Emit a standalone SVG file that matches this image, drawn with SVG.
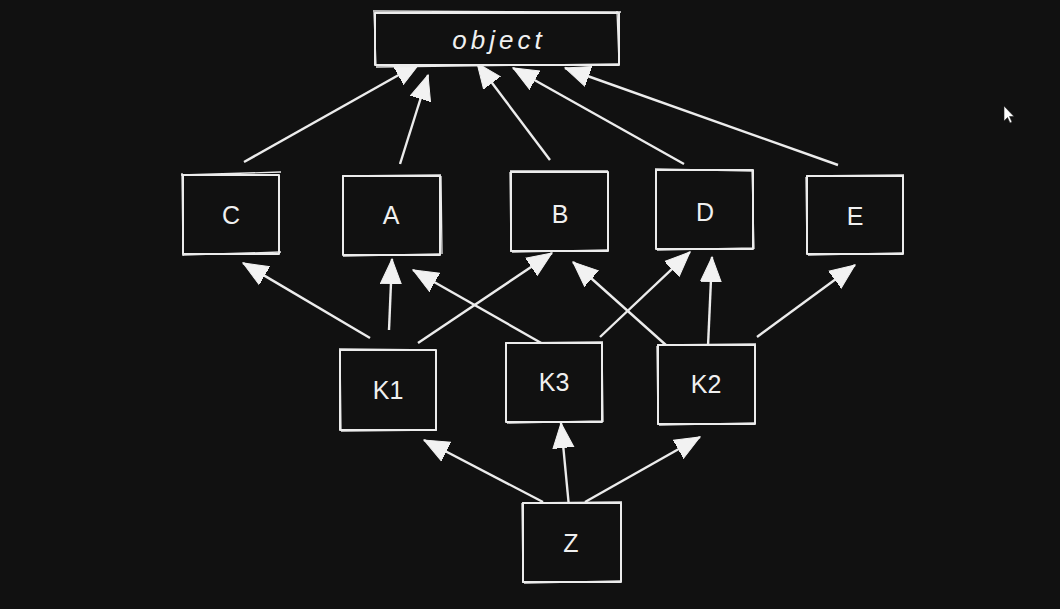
<svg xmlns="http://www.w3.org/2000/svg" width="1060" height="609" viewBox="0 0 1060 609">
<defs>
<style>
.bx{fill:#111111;stroke:#ececec;stroke-width:2;stroke-linejoin:round}
.bx2{fill:none;stroke:#ececec;stroke-width:1.3}
.lb{font-family:"Liberation Sans",Arial,sans-serif;font-size:25px;fill:#f0f0f0;text-anchor:middle;dominant-baseline:central}
.ob{font-family:"Liberation Sans",Arial,sans-serif;font-style:italic;font-size:26px;letter-spacing:4px;fill:#f0f0f0;text-anchor:middle;dominant-baseline:central}
.cn line{stroke:#ececec;stroke-width:2.4;marker-end:url(#ah)}
</style>
<marker id="ah" markerUnits="userSpaceOnUse" markerWidth="28" markerHeight="24" refX="25" refY="12" orient="auto" viewBox="0 0 28 24">
<path d="M0,1.5 L25,12 L0,22.5 Z" fill="#f2f2f2" stroke="#f2f2f2" stroke-width="1"/>
</marker>
</defs>
<rect width="1060" height="609" fill="#111111"/>
<g class="cn" id="connectors">
<line x1="244" y1="162" x2="420" y2="63"/>
<line x1="400" y1="164" x2="428" y2="75"/>
<line x1="550" y1="160" x2="477" y2="63"/>
<line x1="684" y1="164" x2="513" y2="68"/>
<line x1="838" y1="165" x2="565" y2="68"/>
<line x1="370" y1="338" x2="243" y2="263"/>
<line x1="389" y1="330" x2="392" y2="259"/>
<line x1="418" y1="343" x2="552" y2="253"/>
<line x1="550" y1="348" x2="413" y2="270"/>
<line x1="600" y1="337" x2="690" y2="252"/>
<line x1="667" y1="346" x2="573" y2="262"/>
<line x1="708" y1="346" x2="712" y2="257"/>
<line x1="757" y1="337" x2="855" y2="265"/>
<line x1="543" y1="502" x2="424" y2="440"/>
<line x1="569" y1="507" x2="561" y2="423"/>
<line x1="585" y1="502" x2="700" y2="437"/>
</g>
<g id="object">
<rect class="bx" x="375" y="13" width="244" height="52"/>
<path class="bx2" d="M373,11 L621,12 M376,67 L618,64 M374,12 L376,66 M617,11 L619,63"/>
<text class="ob" x="499" y="40">object</text>
</g>
<g id="C">
<rect class="bx" x="183" y="175" width="96" height="79"/>
<path class="bx2" d="M181,175 L281,172 M183,255 L281,252 M182,173 L183,256"/>
<text class="lb" x="231" y="215">C</text>
</g>
<g id="A">
<rect class="bx" x="343" y="176" width="97" height="79"/>
<path class="bx2" d="M342,176 L441,175 M343,256 L440,254 M441,176 L442,254"/>
<text class="lb" x="391" y="215">A</text>
</g>
<g id="B">
<rect class="bx" x="511" y="172" width="97" height="79"/>
<path class="bx2" d="M510,171 L608,171 M512,252 L609,250 M510,172 L511,252"/>
<text class="lb" x="560" y="214">B</text>
</g>
<g id="D">
<rect class="bx" x="656" y="170" width="97" height="79"/>
<path class="bx2" d="M655,169 L753,171 M657,250 L754,248 M752,169 L754,249"/>
<text class="lb" x="705" y="212">D</text>
</g>
<g id="E">
<rect class="bx" x="807" y="176" width="96" height="78"/>
<path class="bx2" d="M806,176 L904,175 M808,255 L903,253 M806,177 L807,254"/>
<text class="lb" x="855" y="216">E</text>
</g>
<g id="K1">
<rect class="bx" x="340" y="350" width="96" height="80"/>
<path class="bx2" d="M339,349 L436,350 M341,431 L437,430 M340,349 L341,431"/>
<text class="lb" x="388" y="390">K1</text>
</g>
<g id="K3">
<rect class="bx" x="506" y="343" width="96" height="79"/>
<path class="bx2" d="M505,343 L603,342 M507,423 L603,421 M602,342 L603,422"/>
<text class="lb" x="554" y="382">K3</text>
</g>
<g id="K2">
<rect class="bx" x="658" y="345" width="97" height="79"/>
<path class="bx2" d="M657,345 L756,344 M659,425 L756,423 M657,346 L658,425"/>
<text class="lb" x="706" y="384">K2</text>
</g>
<g id="Z">
<rect class="bx" x="523" y="503" width="98" height="79"/>
<path class="bx2" d="M522,503 L622,502 M524,583 L622,581 M522,503 L523,583"/>
<text class="lb" x="571" y="543">Z</text>
</g>
<path d="M1004,106 L1004,121 L1007.5,117.5 L1010,123 L1012,122 L1009.5,116.5 L1014,116.5 Z" fill="#ffffff" stroke="#222" stroke-width="0.6"/>
</svg>
